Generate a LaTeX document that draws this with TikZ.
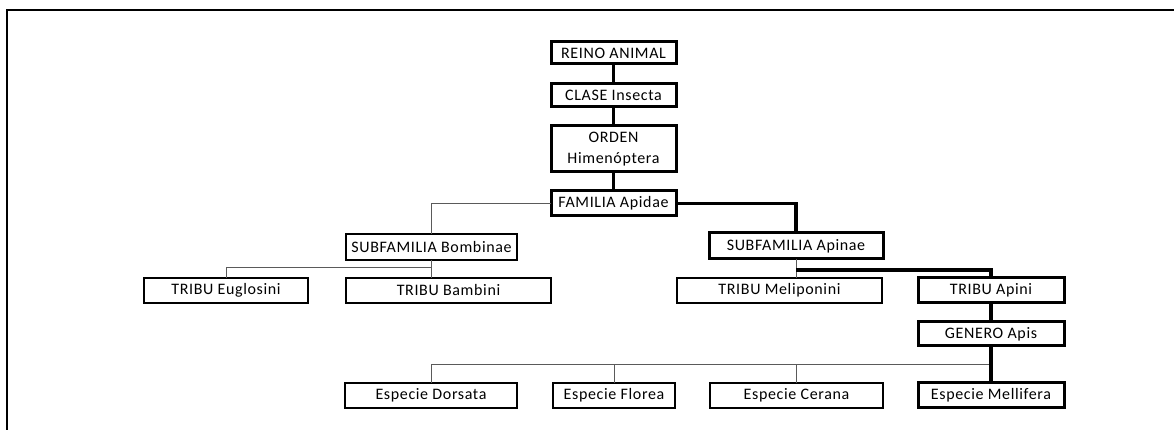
\documentclass[tikz,border=0pt]{standalone}
\usepackage{fontspec}
\setmainfont{Carlito}[LetterSpace=4]
\usepackage{tikz}
\usetikzlibrary{
  calc,
  positioning
}
\definecolor{linkgray}{RGB}{90,90,90}

\begin{document}
\begin{tikzpicture}[
  x=1pt, y=1pt,
  rank/.style={draw, line width=1.8pt, minimum height=25pt, inner sep=0pt,
               outer sep=0pt, align=center, font=\fontsize{16}{21}\selectfont},
  mainrank/.style={rank, line width=3pt},
  link/.style={draw=linkgray, line width=1pt},
  mainlink/.style={draw=black, line width=3.2pt},
  node distance=19pt
]
  \useasboundingbox (0,0) rectangle (1174,430);
  \draw[line width=2pt] (7,0) -- (7,420) -- (1174,420);

  % Top ranks
  \node[mainrank, minimum width=125pt, minimum height=22pt] (reino) at (613.5,377) {REINO ANIMAL};
  \node[mainrank, minimum width=125pt, minimum height=23pt, below=20pt of reino] (clase) {CLASE Insecta};
  \node[mainrank, minimum width=125pt, minimum height=46pt, below=of clase] (orden) {ORDEN\\Himenóptera};
  \node[mainrank, minimum width=125pt, below=of orden] (familia) {FAMILIA Apidae};

  % Subfamilies
  \node[rank, minimum width=171pt, minimum height=26pt] (bombinae) at (431.5,183) {SUBFAMILIA Bombinae};
  \node[mainrank, minimum width=174pt, minimum height=26pt] (apinae) at (796,184) {SUBFAMILIA Apinae};

  % Tribes
  \node[rank, minimum width=164pt] (euglosini) at (226,139.5) {TRIBU Euglosini};
  \node[rank, minimum width=205pt, right=38pt of euglosini] (bambini) {TRIBU Bambini};
  \node[rank, minimum width=205pt] (meliponini) at (779.5,139.5) {TRIBU Meliponini};
  \node[mainrank, minimum width=146pt, right=36pt of meliponini] (apini) {TRIBU Apini};

  % Genus and species
  \node[mainrank, minimum width=146pt, minimum height=24pt, below=of apini] (genero) {GENERO Apis};
  \node[mainrank, minimum width=146pt, below=37pt of genero] (mellifera) {Especie Mellifera};
  \node[rank, minimum width=173pt, left=35pt of mellifera] (cerana) {Especie Cerana};
  \node[rank, minimum width=122pt, left=35pt of cerana] (florea) {Especie Florea};
  \node[rank, minimum width=172pt, left=36pt of florea] (dorsata) {Especie Dorsata};

  % Split points
  \coordinate (bomb-split) at ($(bombinae.south)!0.39!(bombinae.south |- bambini.north)$);
  \coordinate (apin-split) at ($(apinae.south)!0.58!(apinae.south |- meliponini.north)$);
  \coordinate (gen-split) at ($(genero.south)!0.49!(mellifera.north)$);

  % Thin links
  \draw[link] (familia.west) -| (bombinae.north);
  \draw[link] (bombinae.south) -- (bombinae.south |- bambini.north);
  \draw[link] (bomb-split) -| (euglosini.north);
  \draw[link] (apinae.south) -- (apinae.south |- meliponini.north);
  \foreach \sp in {dorsata,florea,cerana}
    \draw[link] (gen-split) -| (\sp.north);

  % Main line down to Apis mellifera
  \draw[mainlink] (reino) -- (clase);
  \draw[mainlink] (clase) -- (orden);
  \draw[mainlink] (orden) -- (familia);
  \draw[mainlink] (familia.east) -| (apinae.north);
  \draw[mainlink] (apin-split) -| (apini.north);
  \draw[mainlink] (apini) -- (genero);
  \draw[mainlink] (genero) -- (mellifera);

\end{tikzpicture}
\end{document}
